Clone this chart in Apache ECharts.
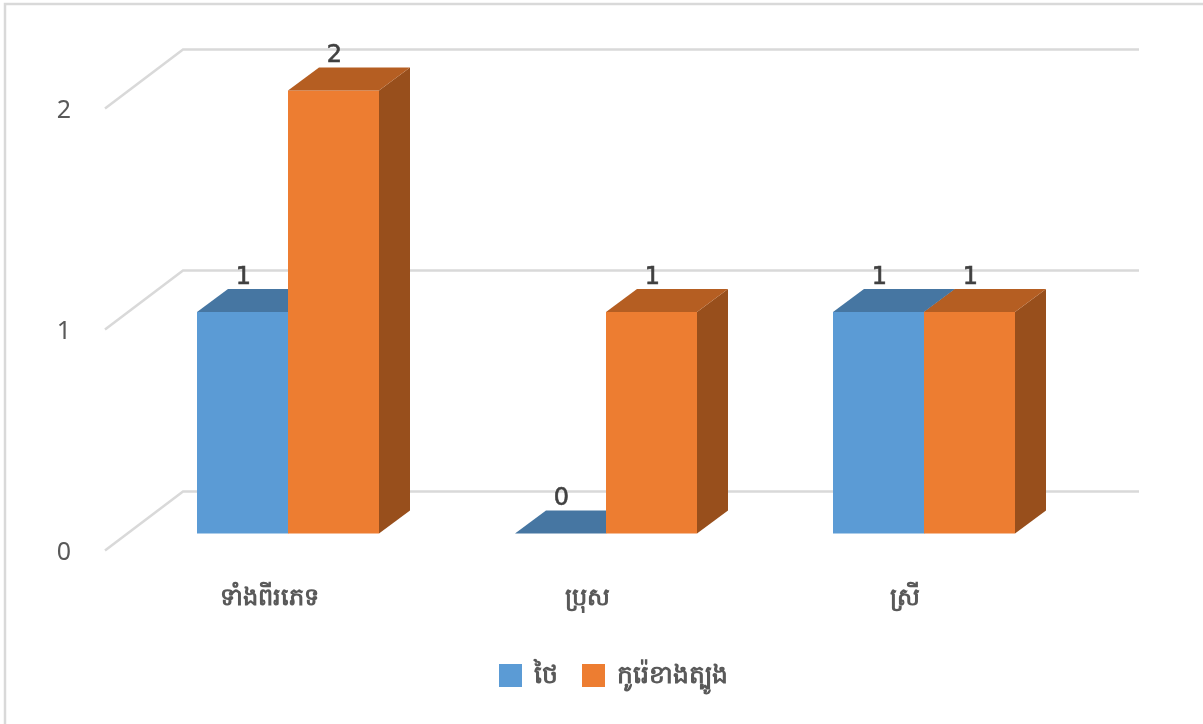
<!DOCTYPE html>
<html><head><meta charset="utf-8">
<style>html,body{margin:0;padding:0;background:#fff}#c{width:1203px;height:724px}</style>
<script src="https://cdn.jsdelivr.net/npm/echarts@6/dist/echarts.min.js"></script>
</head><body><div id="c"></div>
<script>
const categories = ['ទាំងពីរភេទ', 'ប្រុស', 'ស្រី'];
const thaiValues = [1, 0, 1];
const koreaValues = [2, 1, 1];
const seriesNames = ['ថៃ', 'កូរ៉េខាងត្បូង'];
const yTicks = [0, 1, 2];

const FONT = '"Noto Sans","DejaVu Sans",sans-serif';
const DIGIT_FONT = '"DejaVu Sans",sans-serif';
const BAR_W = 91, DX = 31, DY = -23;
const WALL_DX = 78, WALL_DY = -59, WALL_W = 956, WALL_LIFT = 2;

function barRenderer(offsetSign, front, top, side) {
  return function (params, api) {
    const c = api.value(0), v = api.value(1);
    const base = api.coord([c, 0]);
    const head = api.coord([c, v]);
    const xl = base[0] + (offsetSign < 0 ? -BAR_W : 0);
    const xr = xl + BAR_W;
    const yb = base[1], yt = head[1];
    const children = [];
    if (yb - yt > 0) {
      children.push({ type: 'polygon', shape: { points: [[xr, yt], [xr + DX, yt + DY], [xr + DX, yb + DY], [xr, yb]] }, style: { fill: side } });
      children.push({ type: 'rect', shape: { x: xl, y: yt, width: BAR_W, height: yb - yt }, style: { fill: front } });
    }
    children.push({ type: 'polygon', shape: { points: [[xl, yt], [xl + DX, yt + DY], [xr + DX, yt + DY], [xr, yt]] }, style: { fill: top } });
    children.push({ type: 'text', style: { text: String(v), x: (xl + xr) / 2 + 1, y: yt - 34.5, align: 'center', verticalAlign: 'middle', fontFamily: DIGIT_FONT, fontSize: 24, fill: '#404040', stroke: '#404040', lineWidth: 0.6 } });
    return { type: 'group', children };
  };
}

function wallRenderer(params, api) {
  const c = api.coord([0, api.value(0)]);
  const p = [c[0], c[1] - WALL_LIFT];
  return {
    type: 'polyline',
    shape: { points: [p, [p[0] + WALL_DX, p[1] + WALL_DY], [p[0] + WALL_DX + WALL_W, p[1] + WALL_DY]] },
    style: { fill: 'none', stroke: '#d9d9d9', lineWidth: 2.5 }
  };
}

const chart = echarts.init(document.getElementById('c'), null, { renderer: 'canvas' });
chart.setOption({
  animation: false,
  backgroundColor: '#fff',
  graphic: [{ type: 'polyline', silent: true, shape: { points: [[5, 724], [5, 4], [1203, 4]] }, style: { fill: 'none', stroke: '#d9d9d9', lineWidth: 2.5 } }],
  grid: [
    { left: 129, width: 954, top: 90.5, height: 443 },
    { left: 105, width: 956, top: 110.5, height: 442 }
  ],
  xAxis: [
    { type: 'category', gridIndex: 0, data: categories, axisLine: { show: false }, axisTick: { show: false },
      axisLabel: { margin: 50, color: '#595959', fontSize: 24, fontWeight: 'bold', fontFamily: FONT, lineHeight: 30, padding: [0, 38, 0, 0] } },
    { type: 'value', gridIndex: 1, min: 0, max: 1, show: false }
  ],
  yAxis: [
    { type: 'value', gridIndex: 0, min: 0, max: 2, interval: 1, show: false },
    { type: 'value', gridIndex: 1, min: 0, max: 2, interval: 1, splitLine: { show: false }, axisLine: { show: false }, axisTick: { show: false },
      axisLabel: { margin: 34, color: '#595959', fontSize: 25, fontFamily: FONT } }
  ],
  legend: {
    left: 494, top: 658, itemWidth: 23, itemHeight: 23, itemGap: 24, icon: 'rect',
    data: seriesNames,
    textStyle: { color: '#595959', fontSize: 25, fontWeight: 'bold', fontFamily: FONT, padding: [0, 0, 16, 7] }
  },
  series: [
    { type: 'custom', name: '_walls', silent: true, xAxisIndex: 1, yAxisIndex: 1, z: 1, clip: false,
      data: yTicks.map(t => [t]), encode: { y: 0 }, renderItem: wallRenderer },
    { type: 'custom', name: seriesNames[0], xAxisIndex: 0, yAxisIndex: 0, z: 2, clip: false, itemStyle: { color: '#5b9bd5' },
      data: thaiValues.map((v, i) => [i, v]), encode: { x: 0, y: 1 },
      renderItem: barRenderer(-1, '#5b9bd5', '#4676a2', '#3f6a92') },
    { type: 'custom', name: seriesNames[1], xAxisIndex: 0, yAxisIndex: 0, z: 3, clip: false, itemStyle: { color: '#ed7d31' },
      data: koreaValues.map((v, i) => [i, v]), encode: { x: 0, y: 1 },
      renderItem: barRenderer(1, '#ed7d31', '#b55e22', '#984f1c') }
  ]
});
</script></body></html>
